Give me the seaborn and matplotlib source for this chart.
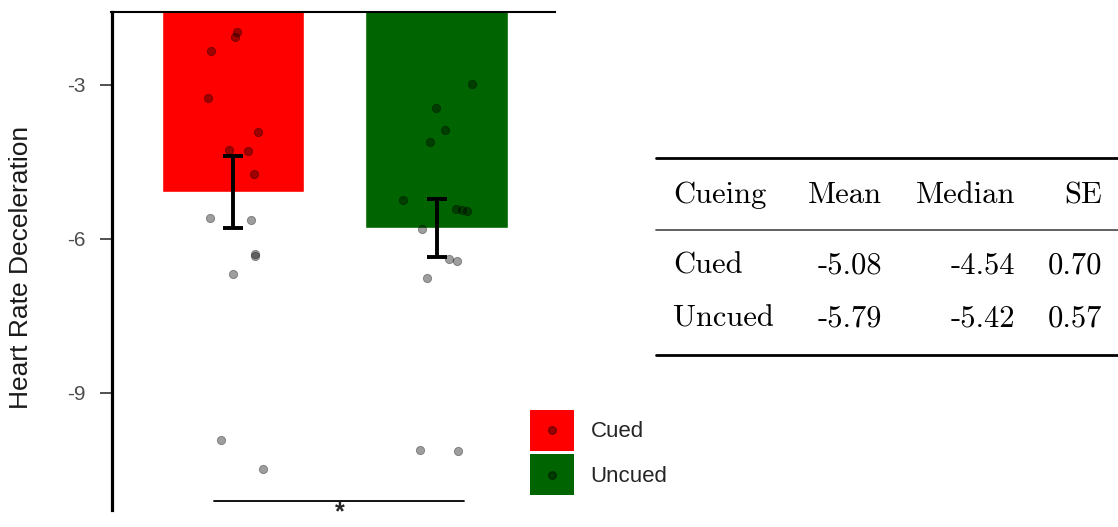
import numpy as np
import pandas as pd
import matplotlib
matplotlib.use("Agg")
import matplotlib.pyplot as plt
import seaborn as sns
from matplotlib.patches import Patch, Rectangle
from matplotlib.lines import Line2D
from matplotlib.legend_handler import HandlerPatch

# ---------------- data ----------------
groups = ["Cued", "Uncued"]
bar_colors = ["#FF0000", "#006400"]
table_mean = [-5.08, -5.79]
table_median = [-4.54, -5.42]
table_se = [0.70, 0.57]
table_cols = ["Cueing", "Mean", "Median", "SE"]

cued_values = [-1.97, -2.07, -2.34, -3.25, -3.92, -4.27, -4.29, -4.73,
               -5.59, -5.63, -6.29, -6.33, -6.68, -9.92, -10.48]
cued_jitter = [0.02, 0.01, -0.108, -0.123, 0.123, -0.02, 0.074, 0.103,
               -0.113, 0.088, 0.108, 0.108, 0.0, -0.059, 0.147]
uncued_values = [-2.98, -3.45, -3.88, -4.11, -5.24, -5.42, -5.44, -5.45,
                 -5.81, -6.39, -6.43, -6.76, -10.11, -10.13]
uncued_jitter = [0.174, -0.002, 0.042, -0.032, -0.165, 0.096, 0.125, 0.15,
                 -0.071, 0.061, 0.101, -0.047, -0.081, 0.106]
y_ticks = [-3, -6, -9]
sig_label = "*"

# ---------------- figure ----------------
sns.set_theme(style="white")
plt.rcParams["font.family"] = ["Liberation Sans", "DejaVu Sans"]
plt.rcParams["mathtext.fontset"] = "custom"
plt.rcParams["mathtext.rm"] = "Liberation Sans"
plt.rcParams["mathtext.bf"] = "Liberation Sans:bold"

W, H = 1118, 527
fig = plt.figure(figsize=(W / 100, H / 100), dpi=100)
ax = fig.add_axes([111.5 / W, 1 - 510 / H, (555 - 111.5) / W, (510 - 12) / H])

bar_df = pd.DataFrame({"group": groups, "mean": table_mean})
sns.barplot(data=bar_df, x="group", y="mean", hue="group", palette=bar_colors,
            width=0.7, saturation=1, errorbar=None, legend=False, ax=ax)

ax.errorbar(x=[0, 1], y=table_mean, yerr=table_se, fmt="none",
            ecolor="black", elinewidth=2.8, capsize=7.5, capthick=2.8, zorder=4)

pts = pd.DataFrame({
    "x": np.concatenate([np.array(cued_jitter) + 0, np.array(uncued_jitter) + 1]),
    "y": cued_values + uncued_values,
})
sns.scatterplot(data=pts, x="x", y="y", color="black", alpha=0.38, s=36,
                edgecolor="black", linewidth=0.6, legend=False, ax=ax, zorder=5)

ax.set_xlim(-0.597, 1.582)
ax.set_ylim(-11.28, -1.578)
ax.set_xticks([])
ax.set_yticks(y_ticks)
ax.set_yticklabels([str(t) for t in y_ticks])
ax.tick_params(axis="y", length=8.5, width=1.1, color="#222222", pad=10,
               labelsize=15, labelcolor="#4D4D4D", left=True)
ax.set_xlabel("")
ax.set_ylabel("Heart Rate Deceleration", fontsize=19, color="#1a1a1a")
ax.yaxis.set_label_coords(-0.176, 0.487)
for s in ["right", "bottom"]:
    ax.spines[s].set_visible(False)
ax.spines["left"].set_linewidth(2.3)
ax.spines["left"].set_color("black")
ax.spines["top"].set_linewidth(1.5)
ax.spines["top"].set_color("black")

# significance bracket
ax.plot([-0.093, 1.135], [-11.10, -11.10], color="black", lw=1.3, clip_on=False)
ax.text(0.526, -11.31, "$\\mathbf{" + sig_label + "}$", ha="center",
        va="center", fontsize=18, clip_on=False)


# legend: filled square with a point in its centre
class SquareDot(HandlerPatch):
    def create_artists(self, legend, orig_handle, xdescent, ydescent, width,
                       height, fontsize, trans):
        r = Rectangle((-xdescent, -ydescent), width, height,
                      facecolor=orig_handle.get_facecolor(), edgecolor="none",
                      transform=trans)
        d = Line2D([-xdescent + width / 2], [-ydescent + height / 2],
                   marker="o", linestyle="none", color="black", alpha=0.4,
                   markersize=5.5, transform=trans)
        return [r, d]


handles = [Patch(facecolor=c, edgecolor="none") for c in bar_colors]
fig.legend(handles, groups, handler_map={Patch: SquareDot()},
           loc="upper left", bbox_to_anchor=(530 / W, 1 - 410 / H),
           frameon=False, borderpad=0, borderaxespad=0, fontsize=16,
           handlelength=1.98, handleheight=2.46, labelspacing=0.15,
           handletextpad=0.75)

# table
tfont = dict(family="cmr10", fontsize=22, color="black", va="baseline")
col_x = [673, 882, 1015, 1102]
col_ha = ["left", "right", "right", "right"]
row_y = [203, 273, 326.7]
for j, name in enumerate(table_cols):
    fig.text(col_x[j] / W, 1 - row_y[0] / H, name, ha=col_ha[j], **tfont)
for i, g in enumerate(groups):
    vals = [g, f"{table_mean[i]:.2f}", f"{table_median[i]:.2f}", f"{table_se[i]:.2f}"]
    for j, v in enumerate(vals):
        fig.text(col_x[j] / W, 1 - row_y[i + 1] / H, v, ha=col_ha[j], **tfont)

for y, lw, col in [(158, 2.0, "black"), (230, 1.3, "#555555"), (355, 2.0, "black")]:
    fig.add_artist(Line2D([656 / W, 1.0], [1 - y / H, 1 - y / H],
                          transform=fig.transFigure, color=col, lw=lw))

fig.savefig("out.png", dpi=100)
